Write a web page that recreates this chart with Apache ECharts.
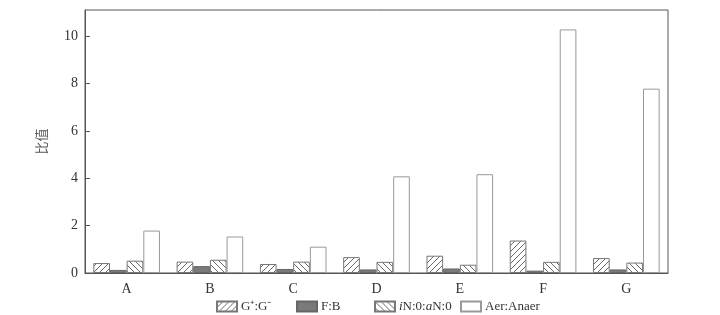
<!DOCTYPE html>
<html><head><meta charset="utf-8">
<script src="https://cdn.jsdelivr.net/npm/echarts@6/dist/echarts.min.js"></script>
<style>html,body{margin:0;padding:0;background:#fff}#c{width:720px;height:315px}</style>
</head><body><div id="c"></div>
<script>
const categories = ['A','B','C','D','E','F','G'];
const gRatio   = [0.42, 0.48, 0.38, 0.67, 0.73, 1.37, 0.63];
const fbRatio  = [0.13, 0.29, 0.17, 0.15, 0.19, 0.10, 0.15];
const inRatio  = [0.52, 0.56, 0.48, 0.47, 0.35, 0.47, 0.44];
const aerRatio = [1.79, 1.54, 1.11, 4.08, 4.17, 10.28, 7.78];
const seriesNames = ['G⁺:G⁻', 'F:B', 'iN:0:aN:0', 'Aer:Anaer'];

function hatch(dir){
  const s = 6, c = document.createElement('canvas');
  c.width = s; c.height = s;
  const x = c.getContext('2d');
  x.fillStyle = '#fff'; x.fillRect(0,0,s,s);
  x.strokeStyle = '#6a6a6a'; x.lineWidth = 1;
  x.beginPath();
  if (dir > 0) {
    x.moveTo(0,s); x.lineTo(s,0);
    x.moveTo(-1,1); x.lineTo(1,-1);
    x.moveTo(s-1,s+1); x.lineTo(s+1,s-1);
  } else {
    x.moveTo(0,0); x.lineTo(s,s);
    x.moveTo(-1,s-1); x.lineTo(1,s+1);
    x.moveTo(s-1,-1); x.lineTo(s+1,1);
  }
  x.stroke();
  return {image: c, repeat: 'repeat'};
}

const font = '"Liberation Serif", "Times New Roman", "Noto Sans CJK SC", serif';
const chart = echarts.init(document.getElementById('c'), null, {renderer:'canvas'});
const styles = [
  {color: hatch(1), borderColor:'#777', borderWidth:1},
  {color: '#7a7a7a', borderColor:'#666', borderWidth:1},
  {color: hatch(-1), borderColor:'#777', borderWidth:1},
  {color: '#ffffff', borderColor:'#999', borderWidth:1}
];
const datas = [gRatio, fbRatio, inRatio, aerRatio];
const legendLeft = [216, 296, 374, 460];
chart.setOption({
  animation:false,
  textStyle:{fontFamily:font},
  grid:{left:85, right:52, top:10, bottom:42, show:true, borderColor:'#555', borderWidth:1},
  legend: seriesNames.map((n,i)=>({
    top:300, left:legendLeft[i], itemWidth:20, itemHeight:10, icon:'rect',
    padding:0,
    textStyle:{fontFamily:font, fontSize:13, color:'#333', padding:[0,0,0,-1],
      rich:{it:{fontStyle:'italic', fontFamily:font, fontSize:13, color:'#333'}}},
    formatter: function(name){
      if (name === 'iN:0:aN:0') return '{it|i}N:0:{it|a}N:0';
      return name;
    },
    data:[n]
  })),
  xAxis:{
    type:'category', data:categories,
    axisLine:{lineStyle:{color:'#555'}},
    axisTick:{show:false},
    axisLabel:{color:'#333', fontSize:14, fontFamily:font, margin:9}
  },
  yAxis:{
    type:'value', min:0, max:11.1, interval:2,
    name:'比值', nameLocation:'middle', nameGap:36,
    nameTextStyle:{color:'#555', fontSize:13, fontFamily:font},
    axisLine:{show:true, lineStyle:{color:'#555'}},
    axisTick:{show:true, inside:true, length:5, lineStyle:{color:'#555'}},
    axisLabel:{color:'#333', fontSize:14, fontFamily:font, showMaxLabel:false, margin:7},
    splitLine:{show:false}
  },
  series: seriesNames.map((n,i)=>({
    name:n, type:'bar', data:datas[i], barGap:'0%', barCategoryGap:'20%',
    itemStyle:styles[i]
  }))
});
</script></body></html>
